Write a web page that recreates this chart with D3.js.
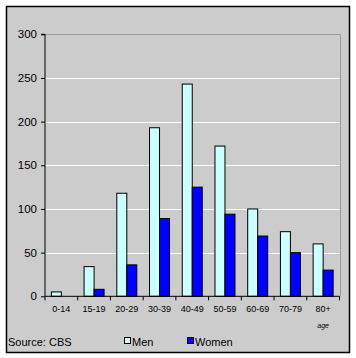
<!DOCTYPE html>
<html><head><meta charset="utf-8">
<script src="https://cdn.jsdelivr.net/npm/d3@7"></script>
<style>body{margin:0;background:#fff}svg{display:block}</style>
</head><body>
<svg id="c" width="356" height="358"></svg>
<script>
const categories = ["0-14","15-19","20-29","30-39","40-49","50-59","60-69","70-79","80+"];
const men   = [5, 34, 118, 193, 243, 172, 100, 74, 60];
const women = [0, 8, 36, 89, 125, 94, 69, 50, 30];
const yTicks = [0, 50, 100, 150, 200, 250, 300];
const seriesNames = ["Men", "Women"];
const colors = ["#ccffff", "#0000ff"];

const svg = d3.select("#c");
svg.append("rect").attr("x",6.5).attr("y",6.5).attr("width",343).attr("height",346)
  .attr("fill","#cccccc").attr("stroke","#000").attr("stroke-width",1.5);

const L=45, R=339.5, T=34.3, B=296.3;
const x = d3.scaleBand().domain(categories).range([L,R]).paddingInner(0).paddingOuter(0);
const y = d3.scaleLinear().domain([0,300]).range([B,T]);
const FONT = "Arial, 'Liberation Sans', sans-serif";

// gridlines
svg.append("g").selectAll("line").data(yTicks.filter(d=>d>0 && d<300)).join("line")
  .attr("x1",L).attr("x2",R).attr("y1",d=>Math.round(y(d))+0.5).attr("y2",d=>Math.round(y(d))+0.5)
  .attr("stroke","#fff").attr("stroke-width",1);
// plot border top/right
svg.append("path").attr("d",`M${L},${Math.round(T)+0.5}H${Math.round(R)+0.5}V${B}`)
  .attr("fill","none").attr("stroke","#999").attr("stroke-width",1);

const bw = 10;
const grp = svg.append("g");
[men, women].forEach((vals, si) => {
  grp.selectAll(null).data(vals).join("rect")
    .attr("x",(d,i)=> x(categories[i]) + x.bandwidth()/2 - bw + si*bw)
    .attr("y",d=>y(d)).attr("width",bw).attr("height",d=>B-y(d))
    .attr("fill",colors[si]).attr("stroke","#000").attr("stroke-width",1)
    .style("display",d=>d>0?null:"none");
});

// y axis
const ya = svg.append("g").attr("transform",`translate(${L},0)`)
  .call(d3.axisLeft(y).tickValues(yTicks).tickSize(4).tickPadding(4));
ya.selectAll("path,line").attr("stroke","#000");
ya.select(".domain").attr("d",`M-4,${T}H0V${B}`);
ya.selectAll("text").attr("font-family",FONT).attr("font-size",11.5).attr("fill","#000");

// x axis
const xa = svg.append("g").attr("transform",`translate(0,${B})`);
xa.append("line").attr("x1",L).attr("x2",R).attr("y1",0).attr("y2",0).attr("stroke","#000");
xa.selectAll("line.t").data(d3.range(categories.length+1)).join("line").attr("class","t")
  .attr("x1",i=>L+i*x.step()).attr("x2",i=>L+i*x.step()).attr("y1",0).attr("y2",4).attr("stroke","#000");
xa.selectAll("text").data(categories).join("text")
  .attr("x",d=>x(d)+x.bandwidth()/2).attr("y",16).attr("text-anchor","middle")
  .attr("font-family",FONT).attr("font-size",9).attr("fill","#000").text(d=>d);

svg.append("text").attr("x",x("80+")+x.bandwidth()/2).attr("y",328).attr("text-anchor","middle")
  .attr("font-family",FONT).attr("font-size",7).attr("font-style","italic").text("age");

svg.append("text").attr("x",8).attr("y",346)
  .attr("font-family",FONT).attr("font-size",11).text("Source: CBS");

const lg = svg.append("g");
const lx = [124, 187];
seriesNames.forEach((n,i)=>{
  lg.append("rect").attr("x",lx[i]+0.5).attr("y",337.5).attr("width",6).attr("height",6)
    .attr("fill",colors[i]).attr("stroke","#000");
  lg.append("text").attr("x",lx[i]+8).attr("y",346)
    .attr("font-family",FONT).attr("font-size",11).text(n);
});
</script>
</body></html>
